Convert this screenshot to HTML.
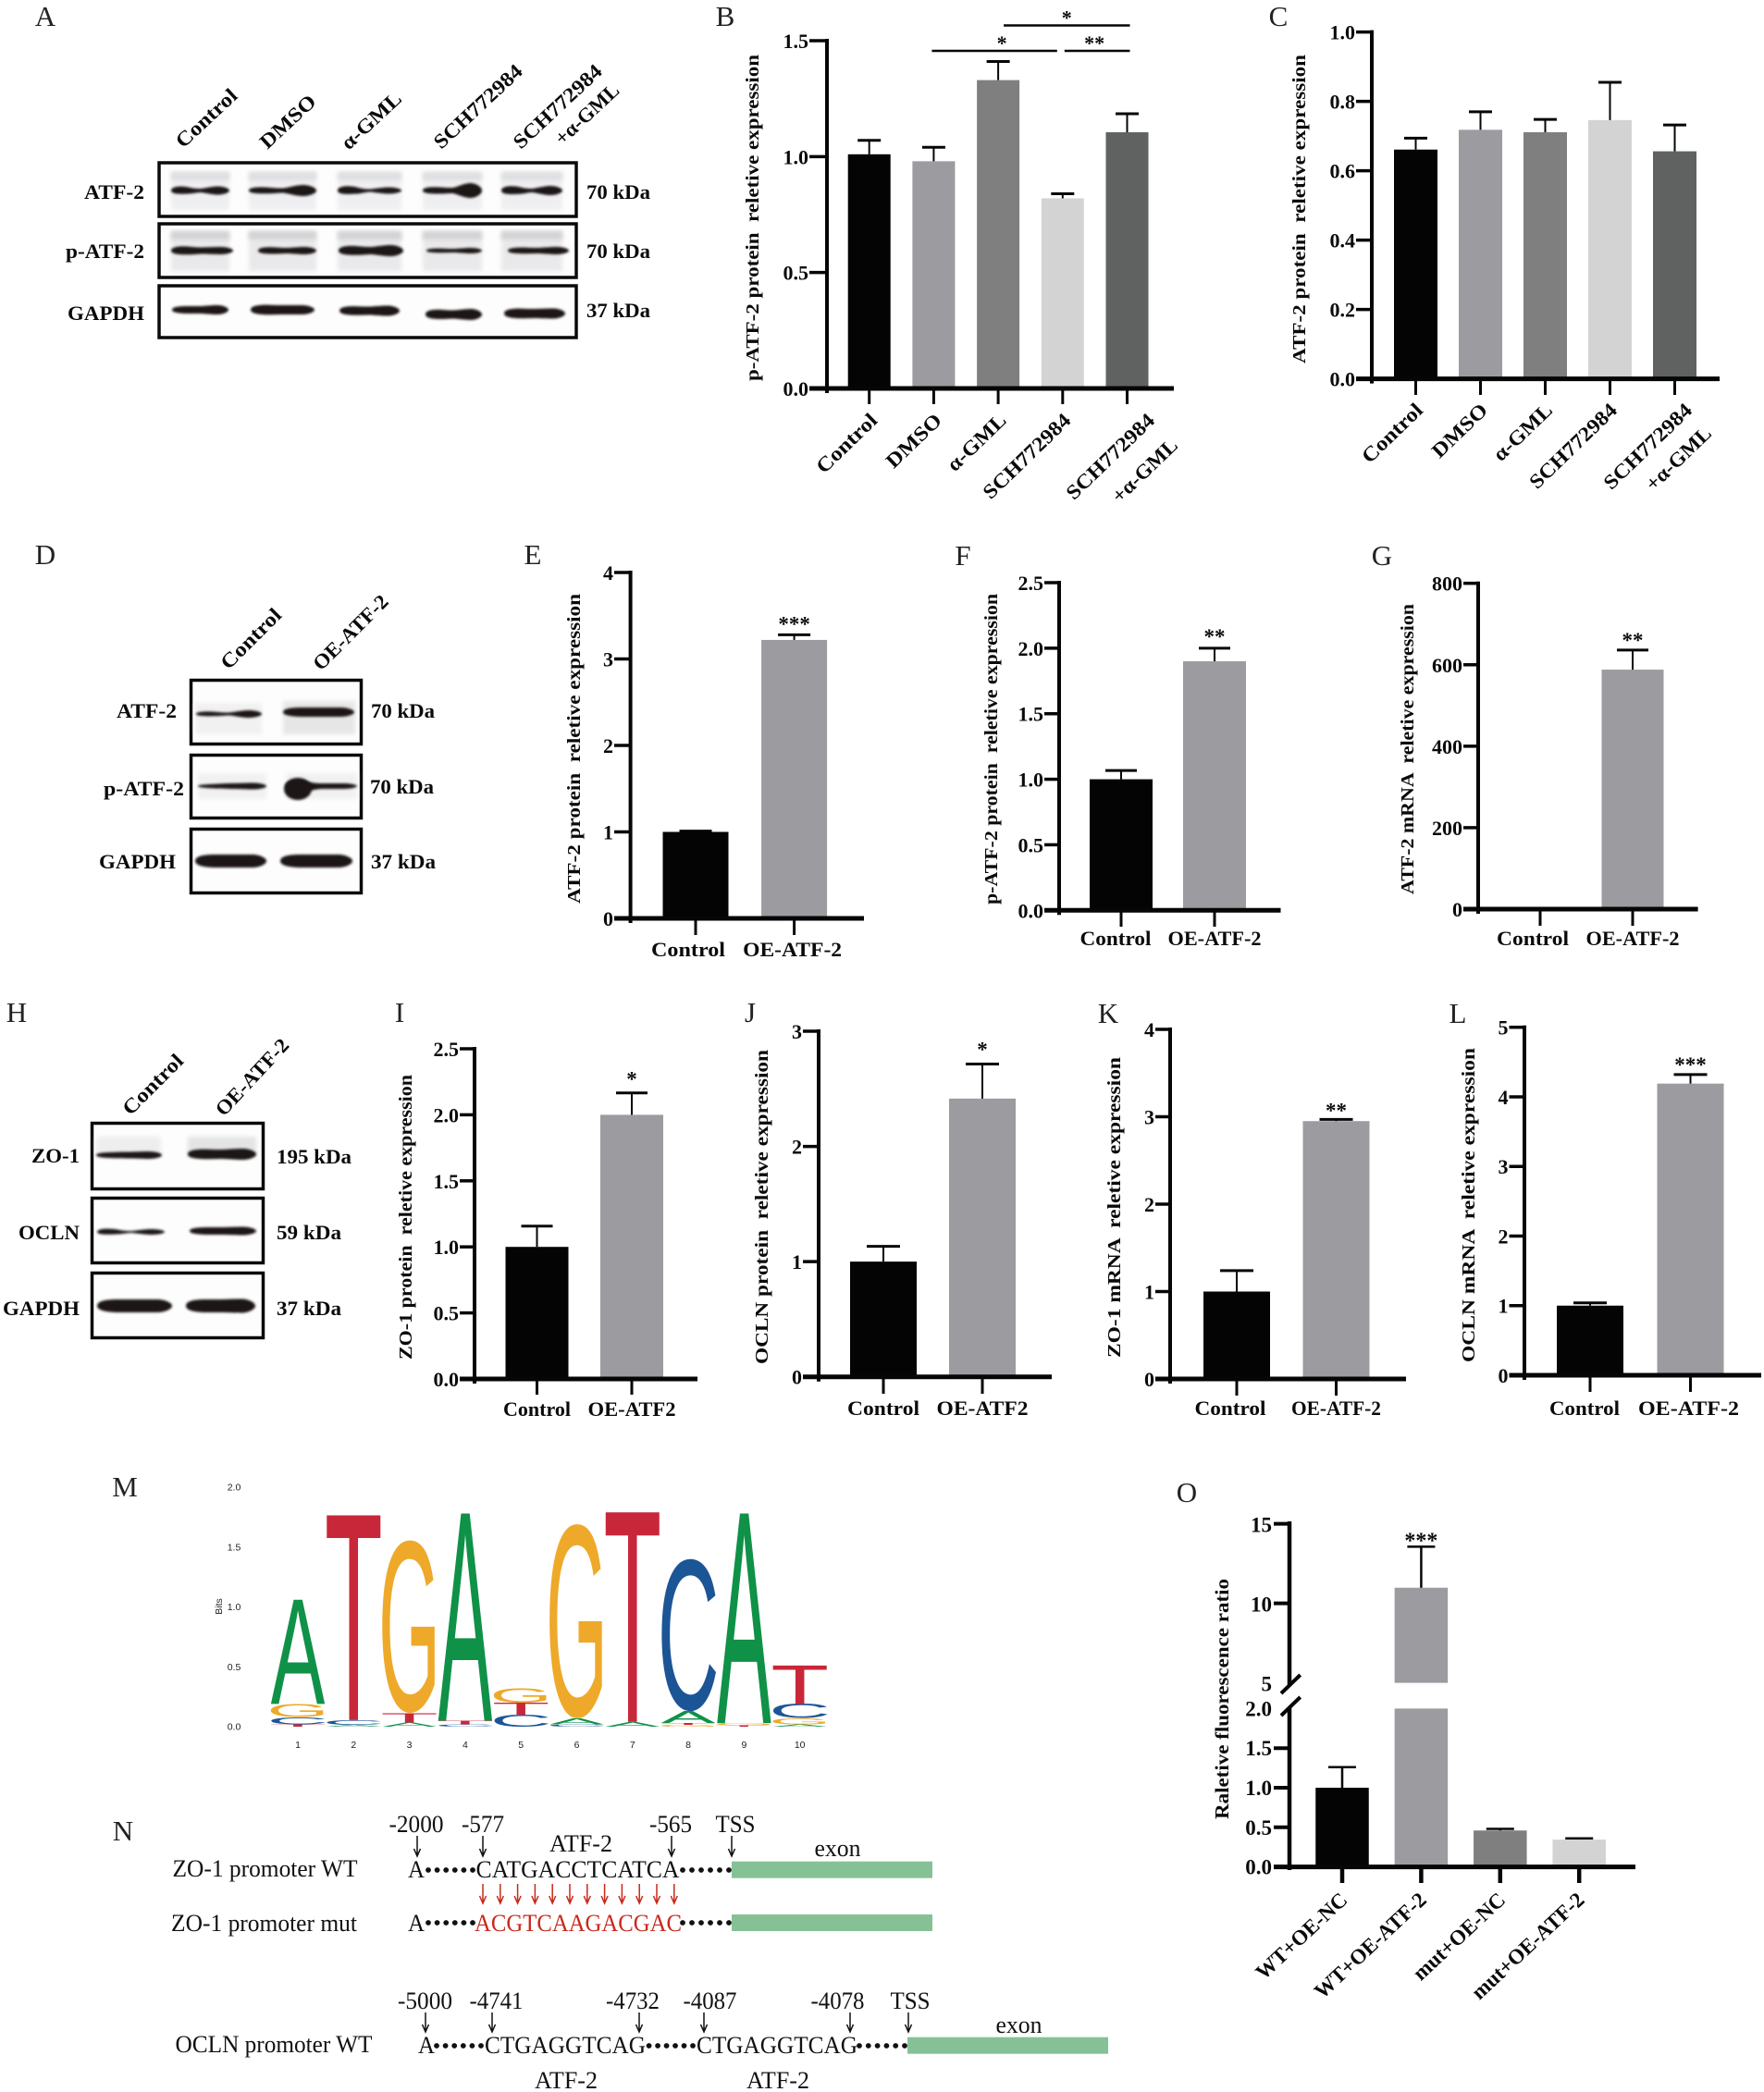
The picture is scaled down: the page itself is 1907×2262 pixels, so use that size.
<!DOCTYPE html>
<html lang="en">
<head>
<meta charset="utf-8">
<title>ATF-2 expression figure</title>
<style>
html,body{margin:0;padding:0;background:#fff}
svg{display:block}
text{font-family:"Liberation Serif",serif;fill:#0a0a0a;white-space:pre}
.L{font-size:31px;font-weight:400;text-anchor:middle;fill:#222}
.b{font-size:22px;font-weight:700}
.e{text-anchor:end}
.n{font-size:26px;font-weight:400;fill:#111}
.m{text-anchor:middle}
.r{fill:#c8291c}
.s{font-family:"Liberation Sans",sans-serif;font-size:10.5px;fill:#222;text-anchor:middle}
.ar{fill:none;stroke:#111;stroke-width:1.5}
.ar2{fill:none;stroke:#c8291c;stroke-width:1.5}
.fr{fill:#fdfdfd;stroke:#0a0a0a;stroke-width:3.5}
.ex{fill:#86c196}
</style>
</head>
<body>
<svg id="fig" width="1907" height="2262" viewBox="0 0 1907 2262" xmlns="http://www.w3.org/2000/svg">
<defs>
<filter id="bl" x="-20%" y="-60%" width="140%" height="220%"><feGaussianBlur stdDeviation="1.3"/></filter>
<filter id="bl2" x="-20%" y="-30%" width="140%" height="160%"><feGaussianBlur stdDeviation="2.5"/></filter>
</defs>
<rect width="1907" height="2262" fill="#fff"/>

<text class="L" x="49" y="28">A</text>
<text class="L" x="784" y="28">B</text>
<text class="L" x="1382" y="28">C</text>
<text class="L" x="49" y="610">D</text>
<text class="L" x="576" y="610">E</text>
<text class="L" x="1041" y="611">F</text>
<text class="L" x="1494" y="611">G</text>
<text class="L" x="18" y="1105">H</text>
<text class="L" x="432" y="1105">I</text>
<text class="L" x="811" y="1105">J</text>
<text class="L" x="1198" y="1106">K</text>
<text class="L" x="1576" y="1106">L</text>
<text class="L" x="135" y="1618">M</text>
<text class="L" x="133" y="1990">N</text>
<text class="L" x="1283" y="1624">O</text>

<!-- Blot A -->
<g>
<rect class="fr" x="172" y="176" width="451" height="58"/>
<rect class="fr" x="172" y="242" width="451" height="58"/>
<rect class="fr" x="172" y="309" width="451" height="56"/>
<g id="blotA"></g>
<text class="b" transform="translate(198,161) rotate(-43)" textLength="82" lengthAdjust="spacingAndGlyphs">Control</text>
<text class="b" transform="translate(289,162) rotate(-43)" textLength="74" lengthAdjust="spacingAndGlyphs">DMSO</text>
<text class="b" transform="translate(377,163) rotate(-43)" textLength="80" lengthAdjust="spacingAndGlyphs">α-GML</text>
<text class="b" transform="translate(477,162) rotate(-43)" textLength="122" lengthAdjust="spacingAndGlyphs">SCH772984</text>
<text class="b" transform="translate(563,162) rotate(-43)" textLength="122" lengthAdjust="spacingAndGlyphs">SCH772984</text>
<text class="b" transform="translate(608,158) rotate(-43)" textLength="86" lengthAdjust="spacingAndGlyphs">+α-GML</text>
<text class="b e" x="156" y="215" textLength="65" lengthAdjust="spacingAndGlyphs">ATF-2</text>
<text class="b e" x="156" y="279" textLength="85" lengthAdjust="spacingAndGlyphs">p-ATF-2</text>
<text class="b e" x="156" y="346" textLength="83" lengthAdjust="spacingAndGlyphs">GAPDH</text>
<text class="b" x="634" y="215" textLength="69" lengthAdjust="spacingAndGlyphs">70 kDa</text>
<text class="b" x="634" y="279" textLength="69" lengthAdjust="spacingAndGlyphs">70 kDa</text>
<text class="b" x="634" y="343" textLength="69" lengthAdjust="spacingAndGlyphs">37 kDa</text>
</g>

<!-- Blot D -->
<g>
<rect class="fr" x="206.500" y="735.500" width="184" height="69"/>
<rect class="fr" x="206.500" y="816.500" width="184" height="68"/>
<rect class="fr" x="206.500" y="896.500" width="184" height="69"/>
<g id="blotD"></g>
<text class="b" transform="translate(247,725) rotate(-45)" textLength="83" lengthAdjust="spacingAndGlyphs">Control</text>
<text class="b" transform="translate(347,726) rotate(-45)" textLength="105" lengthAdjust="spacingAndGlyphs">OE-ATF-2</text>
<text class="b e" x="191" y="776" textLength="65" lengthAdjust="spacingAndGlyphs">ATF-2</text>
<text class="b e" x="199" y="860" textLength="87" lengthAdjust="spacingAndGlyphs">p-ATF-2</text>
<text class="b e" x="190" y="939" textLength="83" lengthAdjust="spacingAndGlyphs">GAPDH</text>
<text class="b" x="401" y="776" textLength="69" lengthAdjust="spacingAndGlyphs">70 kDa</text>
<text class="b" x="400" y="858" textLength="69" lengthAdjust="spacingAndGlyphs">70 kDa</text>
<text class="b" x="401" y="939" textLength="70" lengthAdjust="spacingAndGlyphs">37 kDa</text>
</g>

<!-- Blot H -->
<g>
<rect class="fr" x="99.500" y="1214.500" width="185" height="71"/>
<rect class="fr" x="99.500" y="1295.500" width="185" height="70"/>
<rect class="fr" x="99.500" y="1376.500" width="185" height="70"/>
<g id="blotH"></g>
<text class="b" transform="translate(141,1207) rotate(-45)" textLength="83" lengthAdjust="spacingAndGlyphs">Control</text>
<text class="b" transform="translate(242,1208) rotate(-47)" textLength="105" lengthAdjust="spacingAndGlyphs">OE-ATF-2</text>
<text class="b e" x="86" y="1257" textLength="52" lengthAdjust="spacingAndGlyphs">ZO-1</text>
<text class="b e" x="86" y="1340" textLength="66" lengthAdjust="spacingAndGlyphs">OCLN</text>
<text class="b e" x="86" y="1422" textLength="83" lengthAdjust="spacingAndGlyphs">GAPDH</text>
<text class="b" x="299" y="1258" textLength="81" lengthAdjust="spacingAndGlyphs">195 kDa</text>
<text class="b" x="299" y="1340" textLength="70" lengthAdjust="spacingAndGlyphs">59 kDa</text>
<text class="b" x="299" y="1422" textLength="70" lengthAdjust="spacingAndGlyphs">37 kDa</text>
</g>

<g id="charts"></g>
<g id="logo"></g>

<!-- Panel N -->
<g>
<text class="n m" x="450" y="1981" textLength="59" lengthAdjust="spacingAndGlyphs">-2000</text>
<text class="n m" x="522" y="1981" textLength="46" lengthAdjust="spacingAndGlyphs">-577</text>
<text class="n m" x="725" y="1981" textLength="46" lengthAdjust="spacingAndGlyphs">-565</text>
<text class="n m" x="795" y="1981" textLength="43" lengthAdjust="spacingAndGlyphs">TSS</text>
<text class="n m" x="628" y="2002" textLength="68" lengthAdjust="spacingAndGlyphs">ATF-2</text>
<text class="n m" x="905.500" y="2007" textLength="50" lengthAdjust="spacingAndGlyphs">exon</text>
<path class="ar" d="M451 1985V2007M447.500 1999L451 2007L454.500 1999"/>
<path class="ar" d="M522 1985V2007M518.500 1999L522 2007L525.500 1999"/>
<path class="ar" d="M726 1985V2007M722.500 1999L726 2007L729.500 1999"/>
<path class="ar" d="M791 1985V2007M787.500 1999L791 2007L794.500 1999"/>
<text class="n" x="186.500" y="2029" textLength="200" lengthAdjust="spacingAndGlyphs">ZO-1 promoter WT</text>
<text class="n" x="441" y="2030" textLength="18" lengthAdjust="spacingAndGlyphs">A</text>
<text class="n" x="514.500" y="2030" textLength="220" lengthAdjust="spacingAndGlyphs">CATGACCTCATCA</text>
<rect class="ex" x="791" y="2012.700" width="217" height="18"/>
<g id="redArrows"></g>
<text class="n" x="185" y="2088" textLength="201" lengthAdjust="spacingAndGlyphs">ZO-1 promoter mut</text>
<text class="n" x="441" y="2088" textLength="18" lengthAdjust="spacingAndGlyphs">A</text>
<text class="n r" x="513" y="2088" textLength="224" lengthAdjust="spacingAndGlyphs">ACGTCAAGACGAC</text>
<rect class="ex" x="791" y="2070" width="217" height="18"/>
<text class="n m" x="459.500" y="2172" textLength="59" lengthAdjust="spacingAndGlyphs">-5000</text>
<text class="n m" x="536.500" y="2172" textLength="58" lengthAdjust="spacingAndGlyphs">-4741</text>
<text class="n m" x="684" y="2172" textLength="58" lengthAdjust="spacingAndGlyphs">-4732</text>
<text class="n m" x="767.500" y="2172" textLength="58" lengthAdjust="spacingAndGlyphs">-4087</text>
<text class="n m" x="905.500" y="2172" textLength="58" lengthAdjust="spacingAndGlyphs">-4078</text>
<text class="n m" x="984" y="2172" textLength="43" lengthAdjust="spacingAndGlyphs">TSS</text>
<path class="ar" d="M460 2176V2197M456.500 2189L460 2197L463.500 2189"/>
<path class="ar" d="M532 2176V2197M528.500 2189L532 2197L535.500 2189"/>
<path class="ar" d="M691 2176V2197M687.500 2189L691 2197L694.500 2189"/>
<path class="ar" d="M761 2176V2197M757.500 2189L761 2197L764.500 2189"/>
<path class="ar" d="M919 2176V2197M915.500 2189L919 2197L922.500 2189"/>
<path class="ar" d="M982 2176V2197M978.500 2189L982 2197L985.500 2189"/>
<text class="n m" x="1101.500" y="2198" textLength="50" lengthAdjust="spacingAndGlyphs">exon</text>
<text class="n" x="189.500" y="2219" textLength="213" lengthAdjust="spacingAndGlyphs">OCLN promoter WT</text>
<text class="n" x="452" y="2220" textLength="18" lengthAdjust="spacingAndGlyphs">A</text>
<text class="n" x="524" y="2220" textLength="174" lengthAdjust="spacingAndGlyphs">CTGAGGTCAG</text>
<text class="n" x="753" y="2220" textLength="174" lengthAdjust="spacingAndGlyphs">CTGAGGTCAG</text>
<rect class="ex" x="981" y="2202.700" width="217" height="18"/>
<text class="n m" x="612" y="2258" textLength="68" lengthAdjust="spacingAndGlyphs">ATF-2</text>
<text class="n m" x="841" y="2258" textLength="68" lengthAdjust="spacingAndGlyphs">ATF-2</text>
<g id="dots"></g>
</g>
</svg>

<script>
/* ---------- chart data ---------- */
const panelBCategories = ['Control','DMSO','α-GML','SCH772984','SCH772984|+α-GML'];
const panelBValues = [1.01,0.98,1.33,0.82,1.105];
const panelBErrors = [0.06,0.06,0.08,0.02,0.08];
const panelBTicks = [0,0.5,1,1.5];
const panelBTickLabels = ['0.0','0.5','1.0','1.5'];
const panelBBracketFrom = [1,3,2];
const panelBBracketTo = [3,4,4];
const panelBBracketLevels = [1.456,1.456,1.566];
const panelBBracketLabels = ['*','**','*'];

const panelCCategories = ['Control','DMSO','α-GML','SCH772984','SCH772984|+α-GML'];
const panelCValues = [0.661,0.718,0.711,0.746,0.656];
const panelCErrors = [0.033,0.052,0.037,0.109,0.076];
const panelCTicks = [0,0.2,0.4,0.6,0.8,1];
const panelCTickLabels = ['0.0','0.2','0.4','0.6','0.8','1.0'];

const panelECategories = ['Control','OE-ATF-2'];
const panelEValues = [1,3.22];
const panelEErrors = [0.01,0.06];
const panelETicks = [0,1,2,3,4];
const panelETickLabels = ['0','1','2','3','4'];
const panelEStars = ['','***'];

const panelFCategories = ['Control','OE-ATF-2'];
const panelFValues = [1,1.9];
const panelFErrors = [0.067,0.1];
const panelFTicks = [0,0.5,1,1.5,2,2.5];
const panelFTickLabels = ['0.0','0.5','1.0','1.5','2.0','2.5'];
const panelFStars = ['','**'];

const panelGCategories = ['Control','OE-ATF-2'];
const panelGValues = [1,588];
const panelGErrors = [0,48];
const panelGTicks = [0,200,400,600,800];
const panelGTickLabels = ['0','200','400','600','800'];
const panelGStars = ['','**'];

const panelICategories = ['Control','OE-ATF2'];
const panelIValues = [1,2];
const panelIErrors = [0.157,0.166];
const panelITicks = [0,0.5,1,1.5,2,2.5];
const panelITickLabels = ['0.0','0.5','1.0','1.5','2.0','2.5'];
const panelIStars = ['','*'];

const panelJCategories = ['Control','OE-ATF2'];
const panelJValues = [1,2.415];
const panelJErrors = [0.133,0.3];
const panelJTicks = [0,1,2,3];
const panelJTickLabels = ['0','1','2','3'];
const panelJStars = ['','*'];

const panelKCategories = ['Control','OE-ATF-2'];
const panelKValues = [1,2.95];
const panelKErrors = [0.24,0.02];
const panelKTicks = [0,1,2,3,4];
const panelKTickLabels = ['0','1','2','3','4'];
const panelKStars = ['','**'];

const panelLCategories = ['Control','OE-ATF-2'];
const panelLValues = [1,4.19];
const panelLErrors = [0.04,0.13];
const panelLTicks = [0,1,2,3,4,5];
const panelLTickLabels = ['0','1','2','3','4','5'];
const panelLStars = ['','***'];

const panelOCategories = ['WT+OE-NC','WT+OE-ATF-2','mut+OE-NC','mut+OE-ATF-2'];
const panelOValues = [1,10.98,0.46,0.345];
const panelOErrors = [0.26,2.58,0.02,0.015];
const panelOLowTicks = [0,0.5,1,1.5,2];
const panelOLowTickLabels = ['0.0','0.5','1.0','1.5','2.0'];
const panelOHighTicks = [5,10,15];
const panelOHighTickLabels = ['5','10','15'];
const panelOStars = ['','***','',''];

const logoPositions = ['1','2','3','4','5','6','7','8','9','10'];
const logoLetters = [['T','C','G','A'],['A','C','T'],['A','T','G'],['C','T','A'],['C','T','G'],['C','A','G'],['A','T'],['G','T','A','C'],['T','G','A'],['A','G','C','T']];
const logoBits = [[0.02,0.06,0.11,0.87],[0.015,0.04,1.71],[0.035,0.08,1.44],[0.02,0.03,1.73],[0.10,0.10,0.12],[0.02,0.05,1.62],[0.04,1.75],[0.015,0.015,0.10,1.27],[0.01,0.02,1.75],[0.02,0.05,0.12,0.32]];
const logoTicks = [0,0.5,1,1.5,2];
const logoTickLabels = ['0.0','0.5','1.0','1.5','2.0'];

/* ---------- primitives ---------- */
const NS = 'http://www.w3.org/2000/svg';
const GRAYS = ['#040404','#9b9ba0','#7f7f7f','#d3d3d3','#606261'];
function mk(tag, attrs, parent) {
  const el = document.createElementNS(NS, tag);
  for (const k in attrs) el.setAttribute(k, attrs[k]);
  parent.appendChild(el);
  return el;
}
function seg(x1, y1, x2, y2, w, parent) {
  return mk('line', {x1, y1, x2, y2, stroke: '#060606', 'stroke-width': w}, parent);
}
function txt(str, x, y, size, anchor, parent, extra) {
  const el = mk('text', Object.assign({x, y, 'font-size': size, 'font-weight': 700, 'text-anchor': anchor}, extra || {}), parent);
  el.textContent = str;
  return el;
}

/* ---------- generic bar chart ---------- */
function drawBarChart(c) {
  const g = mk('g', {}, document.getElementById('charts'));
  
  
  const yAt = v => c.yZero - v / c.yMax * (c.yZero - c.yTop);
  const xAt = i => c.cx + i * c.step;

  c.values.forEach((v, i) => {
    const bar = mk('rect', {x: xAt(i) - c.barW / 2, y: yAt(v), width: c.barW, height: yAt(0) - yAt(v), fill: c.colors[i]}, g);
    
    
    if (c.errors[i] > 0) {
      const top = yAt(v + c.errors[i]);
      const stem = seg(xAt(i), yAt(v), xAt(i), top, 2, g);
      
      
      const cap = seg(xAt(i) - c.capW / 2, top, xAt(i) + c.capW / 2, top, 3, g);
      
      
    }
    if (c.stars && c.stars[i]) {
      const top = yAt(v + c.errors[i]);
      const star = txt(c.stars[i], xAt(i), top - c.starGap + 9, 23, 'middle', g);
      
      
    }
    const xt = seg(xAt(i), c.yZero, xAt(i), c.tickBottom, 3, g);
    
    
  });

  const xAxis = seg(c.axisL, c.yZero, c.axisR, c.yZero, 5, g);
  
  
  const yAxis = seg(c.x0, c.yTop - 2, c.x0, c.yZero + 5, 4, g);
  
  

  c.ticks.forEach((t, i) => {
    const m = seg(c.axisL, yAt(t), c.x0, yAt(t), 3.5, g);
    
    
    const lab = txt(c.tickLabels[i], c.axisL - 1, yAt(t) + 8, 22, 'end', g);
    
    
  });

  const yl = mk('text', {transform: 'translate(' + (c.yl.x + 5) + ',' + c.yl.y1 + ') rotate(-90)', x: 0, y: 0, 'font-size': 20, 'font-weight': 700, textLength: c.yl.y1 - c.yl.y2, lengthAdjust: 'spacingAndGlyphs'}, g);
  yl.textContent = c.yl.text;
  
  

  c.categories.forEach((cat, i) => {
    if (c.rot) {
      const parts = cat.split('|');
      const multi = parts.length > 1;
      const dx = multi ? c.rot.multiDx : c.rot.dx;
      const a = mk('text', {transform: 'translate(' + (xAt(i) + dx) + ',' + c.rot.y + ') rotate(-44)', x: 0, y: 0, 'font-size': 22, 'font-weight': 700, 'text-anchor': 'end', textLength: c.rot.widths[i], lengthAdjust: 'spacingAndGlyphs'}, g);
      a.textContent = parts[0];
      
      
      if (multi) {
        const b = mk('text', {transform: 'translate(' + (xAt(i) + c.rot.multiDx2) + ',' + (c.rot.y + c.rot.multiDy) + ') rotate(-44)', x: 0, y: 0, 'font-size': 22, 'font-weight': 700, 'text-anchor': 'end', textLength: c.rot.width2, lengthAdjust: 'spacingAndGlyphs'}, g);
        b.textContent = parts[1];
        
        
      }
    } else {
      const l = txt(cat, xAt(i) + c.labelDx[i], c.labelY + 7, 22, 'middle', g, {textLength: c.labelW[i], lengthAdjust: 'spacingAndGlyphs'});
      
      
    }
  });

  if (c.brackets) {
    c.brackets.from.forEach((f, i) => {
      const y = yAt(c.brackets.levels[i]);
      const x1 = xAt(f) + c.brackets.dxFrom[i];
      const x2 = xAt(c.brackets.to[i]) + c.brackets.dxTo[i];
      const br = seg(x1, y, x2, y, 2.500, g);
      
      
      const s = txt(c.brackets.labels[i], (x1 + x2) / 2 + c.brackets.labelDx[i], y - 1, 22, 'middle', g);
      
      
    });
  }
}

const TITLE_P_ATF2 = 'p-ATF-2 protein  reletive expression';
drawBarChart({name:'chart-b-patf2-protein',categories:panelBCategories,values:panelBValues,errors:panelBErrors,ticks:panelBTicks,tickLabels:panelBTickLabels,colors:GRAYS,
  x0:894,yZero:420,yTop:44,yMax:1.5,axisL:875,axisR:1269,cx:939.7,step:69.7,barW:46,capW:25,tickBottom:437,
  yl:{x:815,y1:412,y2:59,text:TITLE_P_ATF2},
  rot:{dx:10,y:456,widths:[82,74,79,122,123],multiDx:31,multiDx2:56,multiDy:27,width2:89},
  brackets:{from:panelBBracketFrom,to:panelBBracketTo,levels:panelBBracketLevels,labels:panelBBracketLabels,dxFrom:[-2,2,6],dxTo:[-6,3,3],labelDx:[8,-3,0]}});
drawBarChart({name:'chart-c-atf2-protein',categories:panelCCategories,values:panelCValues,errors:panelCErrors,ticks:panelCTicks,tickLabels:panelCTickLabels,colors:GRAYS,
  x0:1483,yZero:409.6,yTop:34.6,yMax:1,axisL:1466,axisR:1859,cx:1530.5,step:70,barW:47,capW:25,tickBottom:427,
  yl:{x:1406,y1:393,y2:59,text:'ATF-2 protein  reletive expression'},
  rot:{dx:9,y:445,widths:[82,74,79,122,123],multiDx:20,multiDx2:41,multiDy:25,width2:89}});
drawBarChart({name:'chart-e-atf2-protein',categories:panelECategories,values:panelEValues,errors:panelEErrors,ticks:panelETicks,tickLabels:panelETickLabels,colors:[GRAYS[0],GRAYS[1]],stars:panelEStars,starGap:13,
  x0:681.6,yZero:993,yTop:619,yMax:4,axisL:664,axisR:934,cx:752,step:106.6,barW:71,capW:35,tickBottom:1011,
  yl:{x:622,y1:977,y2:642,text:'ATF-2 protein  reletive expression'},labelY:1027,labelDx:[-8,-2],labelW:[80,107]});
drawBarChart({name:'chart-f-patf2-protein',categories:panelFCategories,values:panelFValues,errors:panelFErrors,ticks:panelFTicks,tickLabels:panelFTickLabels,colors:[GRAYS[0],GRAYS[1]],stars:panelFStars,starGap:14,
  x0:1145,yZero:984.3,yTop:630,yMax:2.5,axisL:1129,axisR:1384.5,cx:1212,step:101,barW:68,capW:34,tickBottom:1002,
  yl:{x:1073,y1:978,y2:642,text:TITLE_P_ATF2},labelY:1015,labelDx:[-6,0],labelW:[77,101]});
drawBarChart({name:'chart-g-atf2-mrna',categories:panelGCategories,values:panelGValues,errors:panelGErrors,ticks:panelGTicks,tickLabels:panelGTickLabels,colors:[GRAYS[0],GRAYS[1]],stars:panelGStars,starGap:12,
  x0:1598,yZero:983,yTop:630.7,yMax:800,axisL:1582,axisR:1835.6,cx:1665,step:100,barW:67,capW:34,tickBottom:1001,
  yl:{x:1523,y1:967,y2:653,text:'ATF-2 mRNA  reletive expression'},labelY:1015,labelDx:[-8,0],labelW:[78,101]});
drawBarChart({name:'chart-i-zo1-protein',categories:panelICategories,values:panelIValues,errors:panelIErrors,ticks:panelITicks,tickLabels:panelITickLabels,colors:[GRAYS[0],GRAYS[1]],stars:panelIStars,starGap:16,
  x0:513,yZero:1491,yTop:1134,yMax:2.5,axisL:497,axisR:754,cx:580.5,step:102.5,barW:68,capW:34,tickBottom:1508,
  yl:{x:440,y1:1470,y2:1162,text:'ZO-1 protein  reletive expression'},labelY:1524,labelDx:[0,0],labelW:[73,95]});
drawBarChart({name:'chart-j-ocln-protein',categories:panelJCategories,values:panelJValues,errors:panelJErrors,ticks:panelJTicks,tickLabels:panelJTickLabels,colors:[GRAYS[0],GRAYS[1]],stars:panelJStars,starGap:17,
  x0:885,yZero:1488.7,yTop:1115,yMax:3,axisL:868,axisR:1137,cx:955,step:107,barW:72,capW:36,tickBottom:1507,
  yl:{x:825,y1:1475,y2:1135,text:'OCLN protein  reletive expression'},labelY:1523,labelDx:[0,0],labelW:[78,99]});
drawBarChart({name:'chart-k-zo1-mrna',categories:panelKCategories,values:panelKValues,errors:panelKErrors,ticks:panelKTicks,tickLabels:panelKTickLabels,colors:[GRAYS[0],GRAYS[1]],stars:panelKStars,starGap:11,
  x0:1265,yZero:1491,yTop:1113,yMax:4,axisL:1249,axisR:1520,cx:1337,step:107.5,barW:72,capW:36,tickBottom:1509,
  yl:{x:1206,y1:1468,y2:1143,text:'ZO-1 mRNA  reletive expression'},labelY:1523,labelDx:[-7,0],labelW:[77,97]});
drawBarChart({name:'chart-l-ocln-mrna',categories:panelLCategories,values:panelLValues,errors:panelLErrors,ticks:panelLTicks,tickLabels:panelLTickLabels,colors:[GRAYS[0],GRAYS[1]],stars:panelLStars,starGap:12,
  x0:1648,yZero:1487,yTop:1110.7,yMax:5,axisL:1631.5,axisR:1904,cx:1719,step:108.5,barW:72,capW:36,tickBottom:1505,
  yl:{x:1589,y1:1473,y2:1133,text:'OCLN mRNA  reletive expression'},labelY:1523,labelDx:[-6,-2],labelW:[76,109]});

/* ---------- panel O: broken axis ---------- */
(function () {
  const g = mk('g', {}, document.getElementById('charts'));
  
  
  const LOW_ZERO = 2018.6, LOW_UNIT = 85.6, HIGH_FIVE = 1819.6, HIGH_UNIT = 17.2;
  const yLow = v => LOW_ZERO - v * LOW_UNIT;
  const yHigh = v => HIGH_FIVE - (v - 5) * HIGH_UNIT;
  const yAt = v => v <= 2 ? yLow(v) : yHigh(v);
  const xAt = i => 1451 + i * 85.4;
  const W = 57.5;

  panelOValues.forEach((v, i) => {
    const low = mk('rect', {x: xAt(i) - W / 2, y: yLow(Math.min(v, 2)), width: W, height: yLow(0) - yLow(Math.min(v, 2)), fill: ['#040404', '#9b9ba0', '#7f7f7f', '#d3d3d3'][i]}, g);
    
    
    if (v > 2) {
      const high = mk('rect', {x: xAt(i) - W / 2, y: yHigh(v), width: W, height: yHigh(5) - yHigh(v), fill: '#9b9ba0'}, g);
      
      
    }
    const top = yAt(v + panelOErrors[i]);
    const stem = seg(xAt(i), yAt(v), xAt(i), top, 2.5, g);
    
    
    const cap = seg(xAt(i) - 15, top, xAt(i) + 15, top, 2.5, g);
    
    
    if (panelOStars[i]) {
      const s = txt(panelOStars[i], xAt(i), top + 1, 24, 'middle', g);
      
      
    }
    const tk = seg(xAt(i), LOW_ZERO, xAt(i), 2036, 4.5, g);
    
    
    const lab = mk('text', {transform: 'translate(' + (xAt(i) + 7) + ',2056) rotate(-43)', x: 0, y: 0, 'font-size': 23, 'font-weight': 700, 'text-anchor': 'end'}, g);
    lab.textContent = panelOCategories[i];
    
    
  });

  const xAxis = seg(1377, LOW_ZERO, 1768, LOW_ZERO, 5, g);
  
  
  const axLow = seg(1394, 1846, 1394, 2022, 4.5, g);
  
  
  const axHigh = seg(1394, 1645, 1394, 1822, 4.5, g);
  
  
  const br1 = seg(1385, 1831, 1405.7, 1811, 4, g);
  
  
  const br2 = seg(1385, 1855, 1405.7, 1835, 4, g);
  
  

  panelOLowTicks.forEach((t, i) => {
    if (t !== 2) {
      const m = seg(1377, yLow(t), 1394, yLow(t), 4, g);
      
      
    }
    const lab = txt(panelOLowTickLabels[i], 1375, yLow(t) + 8, 23, 'end', g);
    
    
  });
  panelOHighTicks.forEach((t, i) => {
    if (t !== 5) {
      const m = seg(1377, yHigh(t), 1394, yHigh(t), 4, g);
      
      
    }
    const lab = txt(panelOHighTickLabels[i], 1375, yHigh(t) + 9, 23, 'end', g);
    
    
  });
  const yt = mk('text', {transform: 'translate(1328,1967) rotate(-90)', x: 0, y: 0, 'font-size': 21, 'font-weight': 700, textLength: 260, lengthAdjust: 'spacingAndGlyphs'}, g);
  yt.textContent = 'Raletive fluorescence ratio';
  
  
})();

/* ---------- sequence logo ---------- */
(function () {
  const g = document.getElementById('logo');
  const COLORS = {A: '#0f9148', T: '#c8273a', G: '#eea92a', C: '#1c5596'};
  const FIT = {A: 1.0, T: 1.07, G: 1.15, C: 1.14};
  const yAt = b => 1867 - b * 129.5;
  const xAt = i => 322 + i * 60.3;
  const W = 58.6;
  logoTicks.forEach((t, i) => {
    const l = mk('text', {x: 253, y: yAt(t) + 3.5, class: 's'}, g);
    l.textContent = logoTickLabels[i];
    
    
  });
  const bits = mk('text', {class: 's', transform: 'translate(240,1737) rotate(-90)', x: 0, y: 0}, g);
  bits.textContent = 'Bits';
  
  
  logoPositions.forEach((p, i) => {
    const l = mk('text', {x: xAt(i), y: 1890, class: 's'}, g);
    l.textContent = p;
    
    
    let cum = 0;
    logoLetters[i].forEach((ch, k) => {
      const b = logoBits[i][k];
      const round = ch === 'G' || ch === 'C';
      const t = mk('text', {x: 0, y: 0, 'text-anchor': 'middle', style: 'font-family:"Liberation Sans",sans-serif;font-size:100px;font-weight:400;fill:' + COLORS[ch]}, g);
      t.textContent = ch;
      
      
      const adv = t.getComputedTextLength() || 70;
      const sx = W / adv * FIT[ch];
      const h = yAt(cum) - yAt(cum + b);
      const sy = h / (round ? 70.8 : 68.8);
      const base = yAt(cum) - (round ? 0.98 * sy : 0);
      t.setAttribute('transform', 'translate(' + xAt(i) + ',' + base + ') scale(' + sx + ',' + sy + ')');
      cum += b;
    });
  });
})();

/* ---------- western blot artwork ---------- */
function laneBg(id, x, y, w, h, fill) {
  const r = mk('rect', {x, y, width: w, height: h, fill, filter: 'url(#bl2)'}, document.getElementById(id));
  
  
}
function band(id, x1, x2, y, tl, tm, tr) {
  const w = x2 - x1;
  const d = 'M' + x1 + ' ' + y +
    'C' + x1 + ' ' + (y - tl) + ' ' + (x1 + w * .2) + ' ' + (y - tl) + ' ' + (x1 + w * .3) + ' ' + (y - (tl + tm) / 2) +
    'S' + (x1 + w * .45) + ' ' + (y - tm) + ' ' + (x1 + w * .5) + ' ' + (y - tm) +
    'S' + (x1 + w * .7) + ' ' + (y - tr) + ' ' + (x2 - w * .2) + ' ' + (y - tr) +
    'S' + x2 + ' ' + (y - tr / 2) + ' ' + x2 + ' ' + y +
    'S' + (x2 - w * .1) + ' ' + (y + tr) + ' ' + (x2 - w * .2) + ' ' + (y + tr) +
    'S' + (x1 + w * .55) + ' ' + (y + tm) + ' ' + (x1 + w * .5) + ' ' + (y + tm) +
    'S' + (x1 + w * .35) + ' ' + (y + (tl + tm) / 2) + ' ' + (x1 + w * .3) + ' ' + (y + (tl + tm) / 2) +
    'S' + x1 + ' ' + (y + tl) + ' ' + x1 + ' ' + y + 'Z';
  const p = mk('path', {d, fill: '#1a1413', filter: 'url(#bl)'}, document.getElementById(id));
  
  
}
[[185,63],[269,73],[365,69],[457,64],[542,66]].forEach(l => {
  laneBg('blotA', l[0], 186, l[1], 41, '#efeff2');
  laneBg('blotA', l[0], 186, l[1], 9, '#dfdfe1');
  laneBg('blotA', l[0], 250, l[1], 43, '#e9e9eb');
  laneBg('blotA', l[0], 250, l[1], 9, '#d3d3d5');
});
band('blotA',185,248,206,5,2,4.5);band('blotA',269,342,206,4,2.5,6);band('blotA',365,434,206,5.5,1.5,3.5);band('blotA',457,521,206,4,3,8);band('blotA',542,608,206,5.5,2,5);
band('blotA',185,252,271,5,3.5,4);band('blotA',279,342,271,4,3,4);band('blotA',366,436,271,5.5,4,6);band('blotA',461,521,271,2.5,2,3);band('blotA',549,615,271,3.5,3,4);
band('blotA',186,247,335,4,4,5);band('blotA',271,340,335,5.5,5,5);band('blotA',367,432,336,5,4.5,5.5);band('blotA',460,521,340,5.5,4.5,6);band('blotA',545,611,339,5.5,5,5.5);

laneBg('blotD',211,760,72,34,'#f1f1f1');laneBg('blotD',306,758,78,36,'#e6e6e6');
laneBg('blotD',214,836,74,28,'#f1f1f1');laneBg('blotD',309,836,77,28,'#f1f1f1');
band('blotD',212,283,772,3,1.5,4);band('blotD',306,383,770,5,5,5);
band('blotD',214,288,850,2,3,3.500);band('blotD',309,386,850,7,3,3);
const blob = mk('ellipse', {cx: 322, cy: 853, rx: 15, ry: 12, fill: '#1a1413', filter: 'url(#bl)'}, document.getElementById('blotD'));


band('blotD',211,288,931,7,7,7);band('blotD',303,381,931,7,7,7);

laneBg('blotH',104,1229,70,22,'#eeeeee');laneBg('blotH',203,1229,74,22,'#e4e4e4');
band('blotH',104,175,1249,3,3.500,4);band('blotH',203,277,1248,5.5,5,6);
band('blotH',105,178,1332,4,1,3);band('blotH',205,277,1331,4,4,4.5);
band('blotH',105,186,1412,7,7,7);band('blotH',201,276,1412,7,7,7.5);

/* ---------- promoter artwork ---------- */
(function () {
  const d = document.getElementById('dots');
  [[463,511,2022],[738,788,2022],[463,511,2079],[738,788,2079],[472,520,2212],[701.6,749,2212],[929,978,2212]].forEach(r => {
    for (let i = 0; i < 6; i++) {
      const c = mk('circle', {cx: r[0] + (r[1] - r[0]) * i / 5, cy: r[2], r: 2.9, fill: '#111'}, d);
      
      
    }
  });
  const ra = document.getElementById('redArrows');
  for (let i = 0; i < 12; i++) {
    const x = 522 + i * 18.8;
    const p = mk('path', {class: 'ar2', d: 'M' + x + ' 2037V2058M' + (x - 3.5) + ' 2050L' + x + ' 2058L' + (x + 3.5) + ' 2050'}, ra);
    
    
  }
})();
</script>
</body>
</html>
